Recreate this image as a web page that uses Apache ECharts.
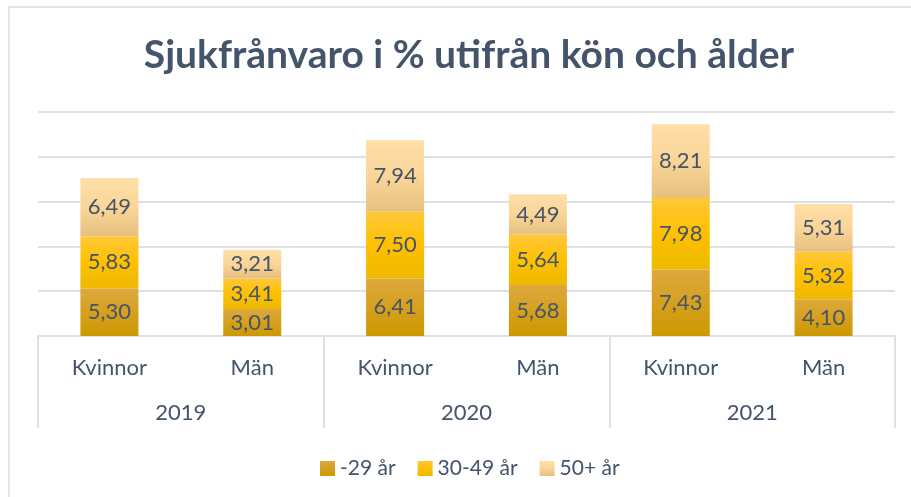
<!DOCTYPE html>
<html>
<head>
<meta charset="utf-8">
<script src="https://cdn.jsdelivr.net/npm/echarts@6/dist/echarts.min.js"></script>
<style>
  html, body { margin: 0; padding: 0; background: #fff; }
  #chart { width: 911px; height: 497px; }
</style>
</head>
<body>
<div id="chart"></div>
<script>
const years = ["2019", "2020", "2021"];
const groups = ["Kvinnor", "Män", "Kvinnor", "Män", "Kvinnor", "Män"];
const under29 = [5.30, 3.01, 6.41, 5.68, 7.43, 4.10];
const age30to49 = [5.83, 3.41, 7.50, 5.64, 7.98, 5.32];
const over50 = [6.49, 3.21, 7.94, 4.49, 8.21, 5.31];
const seriesNames = ["-29 år", "30-49 år", "50+ år"];

const textColor = "#44546A";
const lineColor = "#DDE1E7";
const font = "Lato, 'Open Sans', sans-serif";

const grad = (top, mid, bottom) => new echarts.graphic.LinearGradient(0, 0, 0, 1, [
  { offset: 0, color: top }, { offset: 0.5, color: mid }, { offset: 1, color: bottom }
]);
const fills = [
  grad("#DDA83E", "#D6A01F", "#CC9900"),
  grad("#FFC83A", "#FFC000", "#EDB900"),
  grad("#FFDFA9", "#F9D597", "#E6C07F")
];
const formatComma = (p) => p.value.toFixed(2).replace(".", ",");

const chart = echarts.init(document.getElementById("chart"), null, { renderer: "canvas" });
chart.setOption({
  animation: false,
  title: {
    text: "Sjukfrånvaro i % utifrån kön och ålder",
    left: 464, top: 31, textAlign: "center",
    textStyle: { fontFamily: font, fontSize: 39, fontWeight: "bold", color: textColor }
  },
  graphic: [{
    type: "rect", silent: true,
    shape: { x: 9, y: 7, width: 1000, height: 600 },
    style: { fill: "none", stroke: "#E3E6EA", lineWidth: 2 }
  }],
  legend: {
    left: 315, top: 453, icon: "rect", itemWidth: 15, itemHeight: 15, itemGap: 22,
    textStyle: { fontFamily: font, fontSize: 21, color: textColor },
    data: seriesNames
  },
  grid: { left: 38, right: 16, top: 112, bottom: 161 },
  xAxis: [{
    type: "category", data: groups, position: "bottom",
    axisLine: { show: true, lineStyle: { color: lineColor, width: 2 } },
    axisTick: { show: false },
    axisLabel: { margin: 21, fontFamily: font, fontSize: 22, color: textColor, interval: 0 }
  }, {
    type: "category", data: years, position: "bottom",
    axisLine: { show: false },
    axisTick: { show: true, length: 92, lineStyle: { color: lineColor, width: 2 } },
    axisLabel: { margin: 66, fontFamily: font, fontSize: 22, color: textColor }
  }],
  yAxis: {
    type: "value", min: 0, max: 25, interval: 5,
    axisLine: { show: false }, axisTick: { show: false }, axisLabel: { show: false },
    splitLine: { lineStyle: { color: lineColor, width: 2 } }
  },
  series: [under29, age30to49, over50].map((values, i) => ({
    name: seriesNames[i], type: "bar", stack: "total", xAxisIndex: 0,
    data: values, barWidth: 58,
    itemStyle: { color: fills[i] },
    label: { show: true, position: "inside", formatter: formatComma, fontFamily: font, fontSize: 22, color: textColor }
  }))
});
</script>
</body>
</html>
